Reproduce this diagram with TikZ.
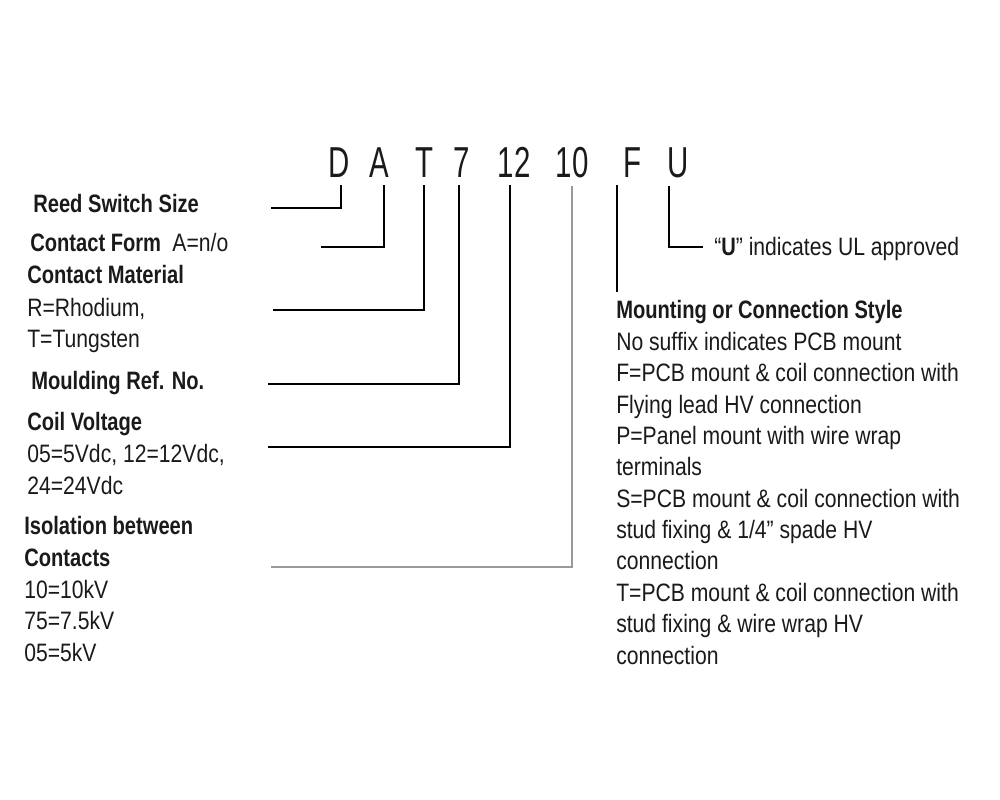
\documentclass[tikz,border=0pt]{standalone}
\usepackage{fontspec}
\setmainfont{Liberation Sans}[FakeStretch=0.84, BoldFeatures={FakeStretch=0.8}]
\newfontfamily\partfont{Liberation Sans}[FakeStretch=0.68]
\usepackage{tikz}
\usetikzlibrary{positioning}
\definecolor{ink}{HTML}{1A1A1A}

\begin{document}
\begin{tikzpicture}[x=0.025cm, y=-0.025cm,
  code/.style = {inner sep=0, anchor=base, text=ink, font=\partfont\fontsize{30.8}{36}\selectfont},
  head/.style = {inner sep=0, anchor=base west, align=left, text=ink, font=\bfseries\fontsize{17.9}{22.3}\selectfont},
  desc/.style = {inner sep=0, anchor=base west, align=left, text=ink, font=\fontsize{17.9}{22.3}\selectfont},
  lead/.style = {draw=black, line width=0.9pt},
  faint/.style = {draw=black!40, line width=0.9pt}]
\useasboundingbox (0,0) rectangle (1000,800);

% part number
\node[code] (cD) at (339,178) {D};
\node[code] (cA) at (379,178) {A};
\node[code] (cT) at (424,178) {T};
\node[code] (c7) at (462,178) {7};
\node[code] (c12) at (514,178) {12};
\node[code] (c10) at (572,178) {10};
\node[code] (cF) at (632,178) {F};
\node[code] (cU) at (678,178) {U};

% left hand labels (base = last line)
\node[head] (size) at (33,213) {Reed Switch Size};
\node[head] (form) at (30,252) {Contact Form\hspace{0.45em}\mdseries A=n/o};
\node[head] (mat) at (27,284) {Contact Material};
\node[desc] (matd) at (27,348) {R=Rhodium,\\T=Tungsten};
\node[head] (mould) at (31,389) {Moulding Ref. No.};
\node[head] (coil) at (27,430) {Coil Voltage};
\node[desc] (coild) at (27,494) {05=5Vdc, 12=12Vdc,\\24=24Vdc};
\node[head] (iso) at (24,566) {Isolation between\\Contacts};
\node[desc] (isod) at (24,661) {10=10kV\\75=7.5kV\\05=5kV};

% right hand labels
\node[desc] (ul) at (714,256) {``{\bfseries U}'' indicates UL approved};
\node[head] (mount) at (616,319) {Mounting or Connection Style};
\node[desc] (mountd) at (616,664) {No suffix indicates PCB mount\\
  F=PCB mount \& coil connection with\\
  Flying lead HV connection\\
  P=Panel mount with wire wrap\\
  terminals\\
  S=PCB mount \& coil connection with\\
  stud fixing \& 1/4'' spade HV\\
  connection\\
  T=PCB mount \& coil connection with\\
  stud fixing \& wire wrap HV\\
  connection};

% leader ends
\coordinate (eD) at (271,208);
\coordinate (eA) at (321,247);
\coordinate (eT) at (273,310);
\coordinate (e7) at (268,384);
\coordinate (e12) at (268,447);
\coordinate (e10) at (271,567);
\coordinate (eF) at (617,292);
\coordinate (eU) at (703,247);

% leaders
\draw[lead] ([shift={(2,7)}]cD.south) |- (eD);
\draw[lead] ([shift={(5,7)}]cA.south) |- (eA);
\draw[lead] ([shift={(0,7)}]cT.south) |- (eT);
\draw[lead] ([shift={(-3,7)}]c7.south) |- (e7);
\draw[lead] ([shift={(-4,7)}]c12.south) |- (e12);
\draw[faint] ([shift={(0,7)}]c10.south) |- (e10);
\draw[lead] ([shift={(-15,7)}]cF.south) -- (eF);
\draw[lead] ([shift={(-9,7)}]cU.south) |- (eU);
\end{tikzpicture}
\end{document}
